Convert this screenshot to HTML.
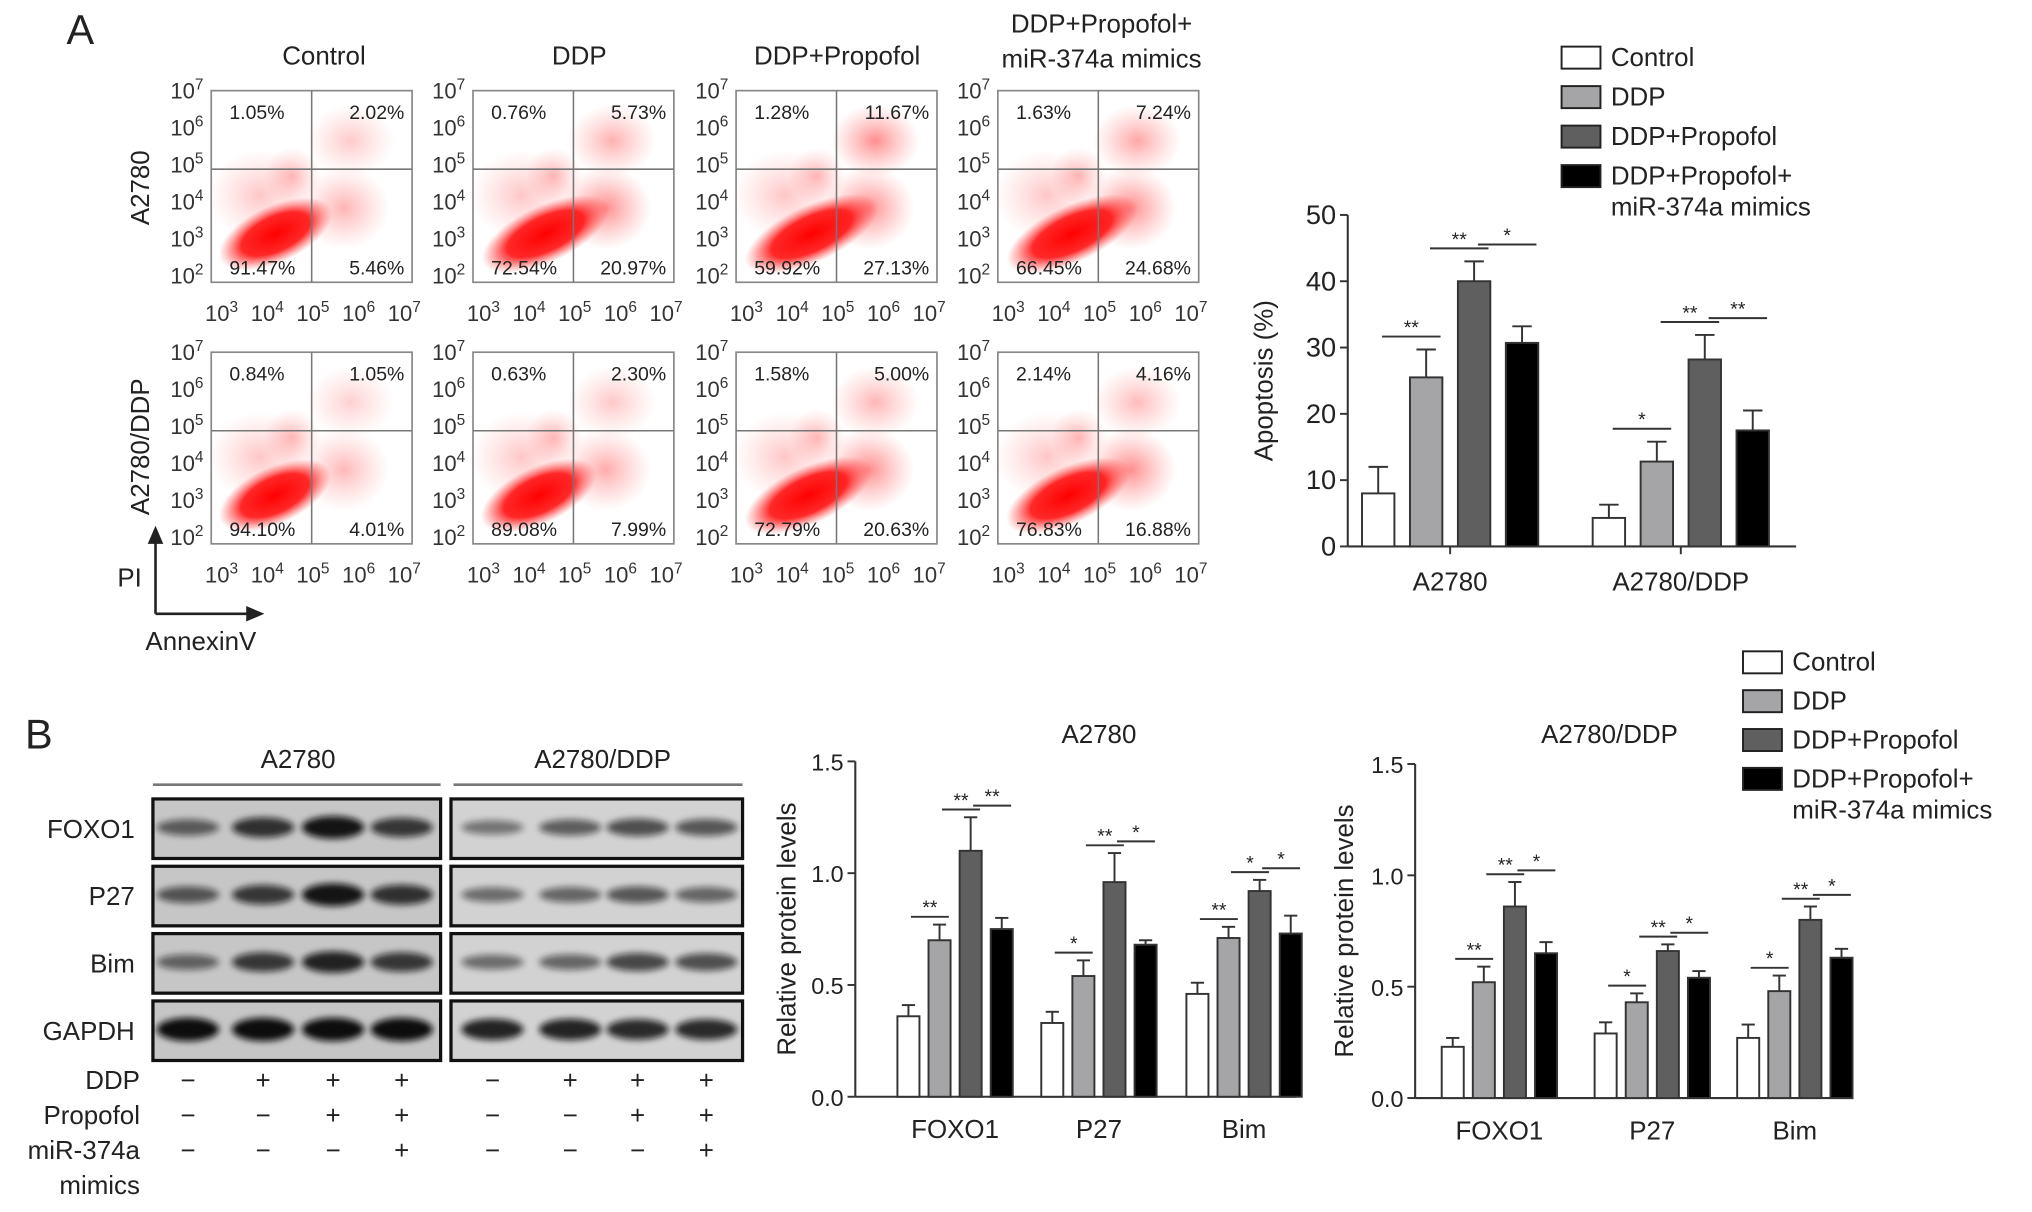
<!DOCTYPE html>
<html><head><meta charset="utf-8">
<style>
html,body{margin:0;padding:0;background:#fff;}
svg{display:block;font-family:"Liberation Sans",Arial,sans-serif;}
</style></head>
<body>
<svg id="fig" width="2032" height="1212" viewBox="0 0 1568 936" preserveAspectRatio="none" xmlns="http://www.w3.org/2000/svg">
<defs>
<radialGradient id="dense" cx="50%" cy="50%" r="50%">
<stop offset="0" stop-color="#ff0000" stop-opacity="1"/>
<stop offset="0.6" stop-color="#ff1010" stop-opacity="0.9"/>
<stop offset="1" stop-color="#ff4040" stop-opacity="0"/>
</radialGradient>
<radialGradient id="sparse" cx="50%" cy="50%" r="50%">
<stop offset="0" stop-color="#ff3030" stop-opacity="0.55"/>
<stop offset="1" stop-color="#ff6060" stop-opacity="0"/>
</radialGradient>
<filter id="blur" x="-20%" y="-50%" width="140%" height="200%"><feGaussianBlur stdDeviation="2.5"/></filter>
</defs>
<g id="root"></g>
</svg>
<script>
// ---------- data ----------
const groupNames = ["Control","DDP","DDP+Propofol","DDP+Propofol+ miR-374a mimics"];
const fills = ["#ffffff","#a5a5a8","#5f5f5f","#000000"];

const flowRows = ["A2780","A2780/DDP"];
const flowUL = [["1.05%","0.76%","1.28%","1.63%"],["0.84%","0.63%","1.58%","2.14%"]];
const flowUR = [["2.02%","5.73%","11.67%","7.24%"],["1.05%","2.30%","5.00%","4.16%"]];
const flowLL = [["91.47%","72.54%","59.92%","66.45%"],["94.10%","89.08%","72.79%","76.83%"]];
const flowLR = [["5.46%","20.97%","27.13%","24.68%"],["4.01%","7.99%","20.63%","16.88%"]];

const apopCats = ["A2780","A2780/DDP"];
const apopVals = [[8,25.5,40,30.7],[4.3,12.8,28.2,17.5]];
const apopErr = [[4,4.2,3,2.5],[2,3,3.7,3]];
const apopTicks = [0,10,20,30,40,50];
const apopSig = [[0,0,1,"**"],[0,1,2,"**"],[0,2,3,"*"],[1,0,1,"*"],[1,1,2,"**"],[1,2,3,"**"]];

const protCats = ["FOXO1","P27","Bim"];
const protTicks = [0,0.5,1.0,1.5];
const protValsA = [[0.36,0.70,1.10,0.75],[0.33,0.54,0.96,0.68],[0.46,0.71,0.92,0.73]];
const protErrA = [[0.05,0.07,0.15,0.05],[0.05,0.07,0.13,0.02],[0.05,0.05,0.05,0.08]];
const protValsB = [[0.23,0.52,0.86,0.65],[0.29,0.43,0.66,0.54],[0.27,0.48,0.80,0.63]];
const protErrB = [[0.04,0.07,0.11,0.05],[0.05,0.04,0.03,0.03],[0.06,0.07,0.06,0.04]];
const protSig = [[0,0,1,"**"],[0,1,2,"**"],[0,2,3,"**"],[1,0,1,"*"],[1,1,2,"**"],[1,2,3,"*"],[2,0,1,"**"],[2,1,2,"*"],[2,2,3,"*"]];
const protSigB = [[0,0,1,"**"],[0,1,2,"**"],[0,2,3,"*"],[1,0,1,"*"],[1,1,2,"**"],[1,2,3,"*"],[2,0,1,"*"],[2,1,2,"**"],[2,2,3,"*"]];

const blotRows = ["FOXO1","P27","Bim","GAPDH"];
const blotIntA = [[0.45,0.75,0.95,0.7],[0.5,0.7,0.95,0.75],[0.4,0.7,0.85,0.7],[1,1,1,1]];
const blotIntB = [[0.3,0.45,0.55,0.5],[0.35,0.4,0.5,0.4],[0.35,0.4,0.6,0.55],[0.85,0.85,0.8,0.8]];
const treatLabels = ["DDP","Propofol","miR-374a"];
const treatSigns = [["−","+","+","+"],["−","−","+","+"],["−","−","−","+"]];

// ---------- helpers ----------
const NS="http://www.w3.org/2000/svg";
const root=document.getElementById('root');
function el(tag,attrs,parent,text){
  const e=document.createElementNS(NS,tag);
  for(const k in attrs) e.setAttribute(k,attrs[k]);
  if(text!==undefined) e.textContent=text;
  (parent||root).appendChild(e);
  return e;
}
function grp(name,parent){
  const g=el('g',{},parent);
  
  
  return g;
}
function txt(parent,x,y,s,size,anchor,name){
  const t=el('text',{x:x,y:y,'font-size':size,'text-anchor':anchor||'middle',fill:'#222'},parent,s);
  
  
  return t;
}
function pow(parent,x,y,exp,size,anchor){
  const t=el('text',{x:x,y:y,'font-size':size,'text-anchor':anchor||'middle',fill:'#333'},parent);
  
  
  el('tspan',{},t,'10');
  el('tspan',{dy:-7,'font-size':size*0.7},t,String(exp));
  return t;
}

// ---------- panel labels ----------
txt(root,62,34,"A",32,'middle','panel-a-label');
txt(root,30,578,"B",32,'middle','panel-b-label');

// ---------- flow plots ----------
const flowX=[163,365,568,770], flowY=[70,272], BW=155, BH=148;
const gTitles=grp('flow-column-titles');
txt(gTitles,250,50,"Control",20,'middle','column-title');
txt(gTitles,447,50,"DDP",20,'middle','column-title');
txt(gTitles,646,50,"DDP+Propofol",20,'middle','column-title');
txt(gTitles,850,25,"DDP+Propofol+",20,'middle','column-title');
txt(gTitles,850,52,"miR-374a mimics",20,'middle','column-title');
const rowLabelY=[145,345];
flowRows.forEach((r,ri)=>{
  const t=txt(root,0,0,r,20,'middle','row-label');
  t.setAttribute('transform',`translate(115,${rowLabelY[ri]}) rotate(-90)`);
});
for(let ri=0;ri<2;ri++)for(let ci=0;ci<4;ci++){
  const g=grp('flow-plot');
  const x0=flowX[ci],y0=flowY[ri];
  const cx=x0+BW*0.5, cy=y0+BH*0.41;
  const lr=parseFloat(flowLR[ri][ci])/100, ur=parseFloat(flowUR[ri][ci])/100;
  el('ellipse',{cx:cx+25,cy:cy+30,rx:35,ry:32,fill:'url(#sparse)',opacity:Math.min(1,0.5+lr*3)},g);
  el('ellipse',{cx:cx+30,cy:cy-22,rx:34,ry:28,fill:'url(#sparse)',opacity:Math.min(1,0.35+ur*6)},g);
  el('ellipse',{cx:cx-15,cy:cy+5,rx:22,ry:22,fill:'url(#sparse)',opacity:0.6},g);
  el('ellipse',{cx:cx-40,cy:cy+20,rx:40,ry:35,fill:'url(#sparse)',opacity:0.5},g);
  const ccx=cx-30+lr*40, ccy=cy+50;
  const c=el('ellipse',{cx:ccx,cy:ccy,rx:45+lr*40,ry:22,fill:'url(#dense)',transform:`rotate(-25 ${ccx} ${ccy})`},g);
  
  
  el('rect',{x:x0,y:y0,width:BW,height:BH,fill:'none',stroke:'#888','stroke-width':1.3},g);
  el('line',{x1:cx,y1:y0,x2:cx,y2:y0+BH,stroke:'#777','stroke-width':1.2},g);
  el('line',{x1:x0,y1:cy,x2:x0+BW,y2:cy,stroke:'#777','stroke-width':1.2},g);
  txt(g,x0+14,y0+22,flowUL[ri][ci],15,'start','quadrant-ul');
  txt(g,x0+BW-6,y0+22,flowUR[ri][ci],15,'end','quadrant-ur');
  txt(g,x0+14,y0+BH-6,flowLL[ri][ci],15,'start','quadrant-ll');
  txt(g,x0+BW-6,y0+BH-6,flowLR[ri][ci],15,'end','quadrant-lr');
  for(let k=0;k<6;k++) pow(g,x0-6,y0+6+k*(BH-5)/5,7-k,17,'end');
  for(let k=0;k<5;k++) pow(g,x0+8+k*(BW-14)/4,y0+BH+30,3+k,17,'middle');
}
const gAx=grp('pi-annexin-axes');
el('line',{x1:120,y1:474,x2:120,y2:418,stroke:'#222','stroke-width':2},gAx);
el('polygon',{points:'114,420 126,420 120,406',fill:'#222'},gAx);
el('line',{x1:120,y1:474,x2:192,y2:474,stroke:'#222','stroke-width':2},gAx);
el('polygon',{points:'190,468 190,480 204,474',fill:'#222'},gAx);
txt(gAx,100,453,"PI",20,'middle','y-axis-title');
txt(gAx,155,502,"AnnexinV",20,'middle','x-axis-title');

// ---------- legends ----------
function legend(x,y0,dy){
  const g=grp('legend');
  groupNames.forEach((n,i)=>{
    const y=y0+i*dy;
    const r=el('rect',{x:x,y:y-8,width:30,height:17,fill:fills[i],stroke:'#222','stroke-width':1.5},g);
    
    
    if(i<3) txt(g,x+38,y+7,n,20,'start','legend-entry');
    else { txt(g,x+38,y+7,"DDP+Propofol+",20,'start','legend-entry'); txt(g,x+38,y+31,"miR-374a mimics",20,'start','legend-entry'); }
  });
}
legend(1205,44,30.5);
legend(1345,511,30);

// ---------- bar chart function ----------
function barChart(o){
  const g=grp(o.name);
  const ys=v=>o.y0-(v/o.max)*(o.y0-o.yTop);
  el('line',{x1:o.ax,y1:o.yTop,x2:o.ax,y2:o.y0,stroke:'#333','stroke-width':1.6},g);
  el('line',{x1:o.ax,y1:o.y0,x2:o.xEnd,y2:o.y0,stroke:'#333','stroke-width':1.6},g);
  o.ticks.forEach(t=>{
    el('line',{x1:o.ax-6,y1:ys(t),x2:o.ax,y2:ys(t),stroke:'#333','stroke-width':1.5},g);
    txt(g,o.ax-9,ys(t)+7,o.fmt(t),o.tickSize,'end','y-tick-label');
  });
  const yl=txt(g,0,0,o.ylabel,20,'middle','y-axis-title');
  yl.setAttribute('transform',`translate(${o.ylx},${(o.y0+o.yTop)/2}) rotate(-90)`);
  if(o.title) txt(g,o.titleX,o.titleY,o.title,20,'middle','chart-title');
  const bx=(gi,bi)=>o.cx[gi]+(bi-1.5)*o.step;
  o.cats.forEach((c,gi)=>{
    if(o.catTick) el('line',{x1:o.cx[gi],y1:o.y0,x2:o.cx[gi],y2:o.y0+6,stroke:'#333','stroke-width':1.5},g);
    txt(g,o.cx[gi],o.y0+o.catDy,c,20,'middle','x-tick-label');
    o.vals[gi].forEach((v,bi)=>{
      const x=bx(gi,bi), top=ys(v), et=ys(v+o.err[gi][bi]);
      el('line',{x1:x,y1:top,x2:x,y2:et,stroke:'#333','stroke-width':1.5},g);
      el('line',{x1:x-o.bw*0.3,y1:et,x2:x+o.bw*0.3,y2:et,stroke:'#333','stroke-width':1.5},g);
      const r=el('rect',{x:x-o.bw/2,y:top,width:o.bw,height:o.y0-top,fill:fills[bi],stroke:'#333','stroke-width':1.5},g);
      
      
    });
  });
  o.sig.forEach(s=>{
    const [gi,a,b,l]=s;
    const m=Math.max(o.vals[gi][a]+o.err[gi][a],o.vals[gi][b]+o.err[gi][b]);
    const y=ys(m)-o.sigOff-(a==2?3:0);
    const x1=bx(gi,a)+o.step*0.08, x2=bx(gi,b)+o.step*0.3;
    el('line',{x1:x1,y1:y,x2:x2,y2:y,stroke:'#333','stroke-width':1.5},g);
    txt(g,(x1+x2)/2,y-2,l,15,'middle','significance-marker');
  });
}
barChart({name:'apoptosis-chart',ax:1040,y0:422,yTop:166,max:50,xEnd:1386,ticks:apopTicks,fmt:t=>String(t),tickSize:21,
  ylabel:"Apoptosis (%)",ylx:982,cats:apopCats,cx:[1119,1297],step:37,bw:25,vals:apopVals,err:apopErr,sig:apopSig,sigOff:10,catDy:34,catTick:true});
barChart({name:'protein-chart-a2780',ax:660,y0:847,yTop:588,max:1.5,xEnd:1000,ticks:protTicks,fmt:t=>t.toFixed(1),tickSize:18,
  ylabel:"Relative protein levels",ylx:614,title:"A2780",titleX:848,titleY:574,cats:protCats,cx:[737,848,960],step:24,bw:17,
  vals:protValsA,err:protErrA,sig:protSig,sigOff:6,catDy:32,catTick:false});
barChart({name:'protein-chart-a2780-ddp',ax:1092,y0:848,yTop:590,max:1.5,xEnd:1430,ticks:protTicks,fmt:t=>t.toFixed(1),tickSize:18,
  ylabel:"Relative protein levels",ylx:1044,title:"A2780/DDP",titleX:1242,titleY:574,cats:protCats,cx:[1157,1275,1385],step:24,bw:17,
  vals:protValsB,err:protErrB,sig:protSigB,sigOff:6,catDy:32,catTick:false});

// ---------- western blot ----------
const gB=grp('western-blot');
txt(gB,230,593,"A2780",20,'middle','blot-header');
txt(gB,465,593,"A2780/DDP",20,'middle','blot-header');
el('line',{x1:118,y1:606,x2:340,y2:606,stroke:'#777','stroke-width':2},gB);
el('line',{x1:350,y1:606,x2:573,y2:606,stroke:'#777','stroke-width':2},gB);
const laneA=[145,203,257,310], laneB=[380,440,492,545];
blotRows.forEach((r,ri)=>{
  const y=617+ri*52;
  txt(gB,104,y+30,r,20,'end','blot-row-label');
  [[118,laneA,blotIntA],[348,laneB,blotIntB]].forEach(([bx,lanes,ints])=>{
    el('rect',{x:bx,y:y,width:bx==118?222:225,height:46,fill:bx==118?'#c6c6c6':'#d2d2d2',stroke:'#111','stroke-width':2.5},gB);
    lanes.forEach((lx,li)=>{
      const v=ints[ri][li];
      const b=el('ellipse',{cx:lx,cy:y+22,rx:24,ry:4+v*5,fill:'#111',opacity:0.25+v*0.75,filter:'url(#blur)'},gB);
      
      
    });
  });
});
treatLabels.forEach((t,ti)=>{
  const y=841+ti*27;
  txt(gB,108,y,t,20,'end','treatment-label');
  treatSigns[ti].forEach((s,i)=>{
    txt(gB,laneA[i],y,s,20,'middle','treatment-sign');
    txt(gB,laneB[i],y,s,20,'middle','treatment-sign');
  });
});
txt(gB,108,922,"mimics",20,'end','treatment-label');
</script>
</body></html>
